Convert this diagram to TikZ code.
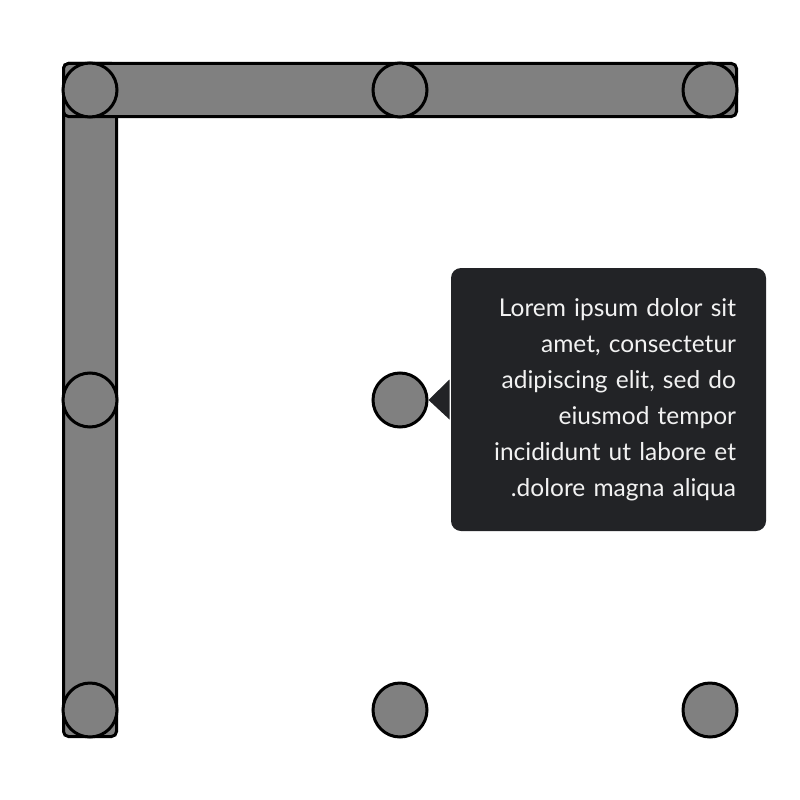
\documentclass[tikz,border=0pt]{standalone}
\usepackage{fontspec}
\setmainfont{Lato}
\usetikzlibrary{positioning}
\definecolor{dotgray}{RGB}{128,128,128}
\definecolor{tipdark}{RGB}{34,35,38}
\definecolor{tiptext}{RGB}{242,242,242}

\begin{document}
\begin{tikzpicture}[x=1pt, y=-1pt, line width=3pt]
    \tikzstyle{dot} = [circle, draw, fill=dotgray, minimum size=54pt, inner sep=0pt]
    \tikzstyle{bar} = [rectangle, draw, fill=dotgray, rounded corners=5pt, inner sep=0pt]
    \tikzstyle{tip} = [rectangle, fill=tipdark, rounded corners=10pt, text=tiptext, align=right,
        text width=255pt, minimum height=263pt, inner xsep=30pt, font=\fontsize{24.5}{36}\selectfont]
    \useasboundingbox (0,0) rectangle (800,800);
    \node[bar, minimum width=53pt, minimum height=673pt] (vbar) at (90,400) {};
    \node[bar, minimum width=673pt, minimum height=53pt] (hbar) at (400,90) {};
    \foreach \r/\y in {1/90, 2/400, 3/710}
        \foreach \c/\x in {1/90, 2/400, 3/710}
            \node[dot] (d-\r-\c) at (\x,\y) {};
    \node[tip] (tipbox) at (608.5,399.5) {Lorem ipsum dolor sit\\ amet, consectetur\\ adipiscing elit, sed do\\ eiusmod tempor\\ incididunt ut labore et\\ .dolore magna aliqua};
    \fill[tipdark] (d-2-2.east) -- ([yshift=20pt]tipbox.west) -- ([yshift=-20pt]tipbox.west) -- cycle;
\end{tikzpicture}
\end{document}
